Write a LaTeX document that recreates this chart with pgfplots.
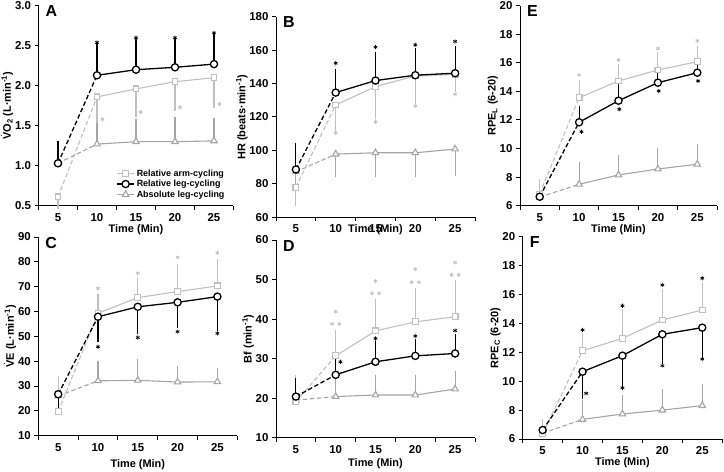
\documentclass[border=0pt]{standalone}
\usepackage{fontspec}
\setmainfont{Liberation Sans}
\usepackage{pgfplots}
\usepackage{pgfplotstable}
\pgfplotsset{compat=1.18}
\definecolor{armc}{RGB}{192,192,192}
\definecolor{absc}{RGB}{165,165,165}

% columns: x, arm, armE, leg, legE, abs, absE
\pgfplotstableread{
x arm armE leg legE abs absE
5 0.61 0.11 1.03 0.24 1.03 0
10 1.86 0.29 2.13 0.36 1.27 0.22
15 1.96 0.32 2.20 0.37 1.30 0.25
20 2.05 0.33 2.23 0.34 1.30 0.27
25 2.10 0.34 2.27 0.35 1.31 0.25
}\tA
\pgfplotstableread{
x arm armE leg legE abs absE
5 78 9.5 88.6 14 87.2 12
10 127.2 13.6 134.6 12.2 97.8 12
15 138.2 17.6 141.8 15.4 98.6 12.6
20 144.5 14.7 145 14.2 98.6 12.6
25 145.5 8.9 146.2 14.6 100.8 14.3
}\tB
\pgfplotstableread{
x arm armE leg legE abs absE
5 19.7 13 26.7 5.5 26 0
10 59.3 6.7 57.9 9.1 32.1 6.6
15 65.6 6.8 61.9 9.6 32.3 7.3
20 68.0 10 63.7 9.1 31.6 5.4
25 70.3 9.7 66.0 12.8 31.7 4.3
}\tC
\pgfplotstableread{
x arm armE leg legE abs absE
5 19.1 5.9 20.4 3.9 19.5 0
10 30.7 5.7 25.9 3.8 20.4 3.8
15 37.0 7.2 29.2 4.4 20.8 4.4
20 39.3 7.8 30.7 3.4 20.8 4.4
25 40.6 8.5 31.3 4.1 22.3 3.7
}\tD
\pgfplotstableread{
x arm armE leg legE abs absE
5 6.82 0.86 6.63 0 6.60 0
10 13.56 1.01 11.84 0.96 7.50 1.35
15 14.73 1.0 13.35 0.98 8.15 1.17
20 15.5 1.05 14.61 0.54 8.57 1.26
25 16.08 0.92 15.31 0.42 8.90 1.23
}\tE
\pgfplotstableread{
x arm armE leg legE abs absE
5 6.35 0.85 6.62 0 6.40 0
10 12.11 1.02 10.66 1.68 7.36 1.15
15 12.97 1.8 11.77 1.91 7.73 1.09
20 14.24 1.92 13.25 1.85 8.0 1.28
25 14.93 1.69 13.71 1.89 8.31 1.27
}\tF

\pgfplotsset{
  armstyle/.style={color=armc, line width=1.1pt, mark=square*, mark size=2.9bp, mark options={fill=white, solid, line width=1.1pt}},
  legstyle/.style={color=black, line width=1.3pt, mark=*, mark size=3.6bp, mark options={fill=white, solid, line width=1.3pt}},
  absstyle/.style={color=absc, line width=1.1pt, mark=triangle*, mark size=3.7bp, mark options={fill=white, solid, line width=1.1pt}},
  panel/.style={
    scale only axis, clip=false,
    axis lines=left, axis line style={-, line width=1pt},
    xmin=2.5, xmax=27.5, xtick={5,10,...,25}, minor xtick={2.5,7.5,...,27.5},
    every major x tick/.append style={draw=none},
    major tick length=4bp, minor tick length=4bp, tick align=outside,
    every tick/.append style={line width=1pt, black},
    tick label style={font=\bfseries\fontsize{11.5}{13}\selectfont},
    label style={font=\bfseries\fontsize{11}{13}\selectfont},
    ylabel shift=-5bp,
    /pgf/number format/assume math mode=true,
    xlabel={Time (Min)},
  },
  starb/.style={only marks, mark=asterisk, mark size=2.1bp, black, line width=0.7pt, forget plot},
  starg/.style={only marks, mark=asterisk, mark size=2.1bp, armc, line width=0.7pt, forget plot},
}

\newcommand{\series}[5]{%
  \addplot[#4, mark=none, dash pattern=on 4.5bp off 2.5bp, forget plot, restrict x to domain=4:11] table[x=x, y=#2] {#1};
  \addplot[#4, mark=none, forget plot, restrict x to domain=9:26] table[x=x, y=#2] {#1};
  \addplot[#4, only marks, forget plot,
    error bars/.cd, y dir=#5, y explicit,
    error bar style={solid, line width=1.1pt},
    error mark options={solid, line width=1.1pt, mark size=3bp}]
    table[x=x, y=#2, y error=#3] {#1};
}
\newcommand{\letter}[1]{\node[anchor=north west, inner sep=0pt, font=\bfseries\fontsize{16}{16}\selectfont] at (rel axis cs:0.035,1.0) {#1};}
\newcommand{\Vdot}{$\dot{\textbf{V}}$}

\begin{document}
\begin{tikzpicture}
\useasboundingbox (0bp,0bp) rectangle (724bp,472bp);

% ---------- A ----------
\begin{axis}[panel, at={(38.5bp,266.3bp)}, anchor=south west, width=195bp, height=200bp,
  ymin=0.5, ymax=3.0, ytick={0.5,1.0,...,3.0},
  yticklabel style={/pgf/number format/.cd, fixed, fixed zerofill, precision=1},
  ylabel={\Vdot O\textsubscript{2} (L·min\textsuperscript{-1})},
  xlabel style={yshift=4bp},
  legend style={at={(rel axis cs:0.97,0.02)}, anchor=south east, draw=none, fill=none,
    font=\bfseries\fontsize{9}{9}\selectfont, row sep=-1.5bp, inner sep=1pt},
  legend cell align=left]
\series{\tA}{abs}{absE}{absstyle}{plus}
\series{\tA}{arm}{armE}{armstyle}{minus}
\series{\tA}{leg}{legE}{legstyle}{plus}
\addplot[starb] coordinates {(10,2.54) (15,2.60) (20,2.60) (25,2.66)};
\addplot[starg] coordinates {(10.7,1.58) (15.6,1.67) (20.65,1.73) (25.7,1.77)};
\addlegendimage{armstyle}
\addlegendentry{Relative arm-cycling}
\addlegendimage{legstyle}
\addlegendentry{Relative leg-cycling}
\addlegendimage{absstyle}
\addlegendentry{Absolute leg-cycling}
\letter{A}
\end{axis}

% ---------- B ----------
\begin{axis}[panel, at={(276bp,254.7bp)}, anchor=south west, width=199bp, height=200.6bp,
  ymin=60, ymax=180, ytick={60,80,...,180},
  ylabel={HR (beats·min\textsuperscript{-1})},
  xlabel style={yshift=15bp}]
\series{\tB}{abs}{absE}{absstyle}{minus}
\series{\tB}{arm}{armE}{armstyle}{minus}
\series{\tB}{leg}{legE}{legstyle}{plus}
\addplot[starb] coordinates {(10,152.2) (15,161.8) (20,163.2) (25,165.2)};
\addplot[starg] coordinates {(10,110.6) (15,117.2) (20,126.6) (25,133.6)};
\letter{B}
\end{axis}

% ---------- E ----------
\begin{axis}[panel, at={(520bp,266.3bp)}, anchor=south west, width=197bp, height=200bp,
  ymin=6, ymax=20, ytick={6,8,...,20},
  ylabel={RPE\textsubscript{L} (6-20)},
  xlabel style={yshift=4bp}]
\series{\tE}{abs}{absE}{absstyle}{plus}
\series{\tE}{arm}{armE}{armstyle}{plus}
\series{\tE}{leg}{legE}{legstyle}{plus}
\addplot[starg] coordinates {(10,15.15) (15,16.2) (20,17.0) (25,17.55)};
\addplot[starb] coordinates {(10.3,11.18) (15.1,12.75) (20.1,14.03) (25.1,14.73)};
\letter{E}
\end{axis}

% ---------- C ----------
\begin{axis}[panel, at={(38.3bp,36.3bp)}, anchor=south west, width=199bp, height=198.7bp,
  ymin=10, ymax=90, ytick={10,20,...,90},
  ylabel={\Vdot E (L·min\textsuperscript{-1})},
  xlabel style={yshift=-1bp}]
\series{\tC}{abs}{absE}{absstyle}{plus}
\series{\tC}{arm}{armE}{armstyle}{plus}
\series{\tC}{leg}{legE}{legstyle}{minus}
\addplot[starg] coordinates {(10,69.3) (15,75.4) (20,81.8) (25,83.7)};
\addplot[starb] coordinates {(10,45.8) (15,49.5) (20,51.9) (25,51.2)};
\letter{C}
\end{axis}

% ---------- D ----------
\begin{axis}[panel, at={(276bp,34.3bp)}, anchor=south west, width=199bp, height=197.7bp,
  ymin=10, ymax=60, ytick={10,20,...,60},
  ylabel={Bf (min\textsuperscript{-1})},
  xlabel style={yshift=2bp}]
\series{\tD}{abs}{absE}{absstyle}{plus}
\series{\tD}{arm}{armE}{armstyle}{plus}
\series{\tD}{leg}{legE}{legstyle}{plus}
\addplot[starb] coordinates {(10.6,29.2) (15,35.1) (20,35.7) (25,37.1)};
\addplot[starg] coordinates {(10,41.9) (15,49.6) (20,52.6) (25,54.3)
  (9.55,38.8) (10.45,38.8) (14.55,46.5) (15.45,46.5) (19.55,49.3) (20.45,49.3) (24.55,51.2) (25.45,51.2)};
\letter{D}
\end{axis}

% ---------- F ----------
\begin{axis}[panel, at={(522.7bp,33bp)}, anchor=south west, width=199.5bp, height=202.2bp,
  ymin=6, ymax=20, ytick={6,8,...,20},
  ylabel={RPE\textsubscript{C} (6-20)},
  xlabel style={yshift=4bp}]
\series{\tF}{abs}{absE}{absstyle}{plus}
\series{\tF}{arm}{armE}{armstyle}{plus}
\series{\tF}{leg}{legE}{legstyle}{minus}
\addplot[starb] coordinates {(10,13.55) (15,15.23) (20,16.66) (25,17.13)};
\addplot[starb] coordinates {(10.45,9.16) (15,9.55) (20,11.08) (25,11.54)};
\letter{F}
\end{axis}
\end{tikzpicture}
\end{document}
